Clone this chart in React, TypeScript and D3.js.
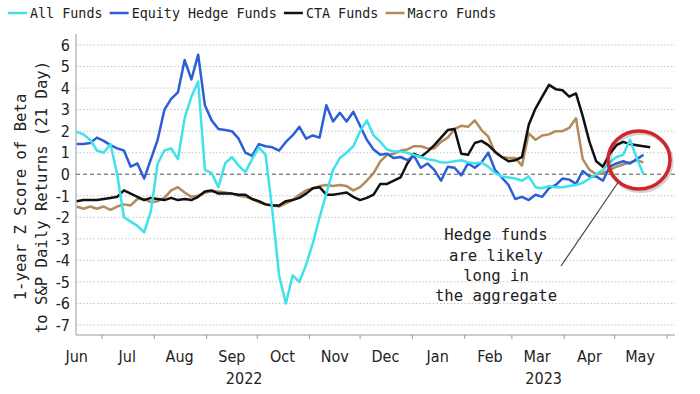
import React from "react";
import * as d3 from "d3";

// sampled every 4 calendar days starting 16 Jun 2022
const startDate = new Date(2022, 5, 16);
const stepDays = 4;

const allFunds = [
  1.97, 1.85, 1.6, 1.1, 1.0, 1.4, 0.0, -2.0, -2.2, -2.4,
  -2.7, -1.7, 0.5, 1.1, 1.2, 0.7, 2.6, 3.6, 4.3, 0.2,
  0.05, -0.6, 0.5, 0.8, 0.4, 0.1, 0.7, 1.25, 0.9, -1.7,
  -4.7, -6.0, -4.7, -5.0, -4.2, -3.2, -2.0, -0.9, 0.2, 0.75,
  1.0, 1.3, 2.0, 2.5, 1.8, 1.5, 1.15, 1.05, 1.05, 1.0,
  0.9, 0.8, 0.7, 0.65, 0.55, 0.55, 0.6, 0.65, 0.55, 0.5,
  0.55, 0.35, 0.05, -0.1, -0.15, -0.2, -0.3, -0.1, -0.6, -0.65,
  -0.55, -0.6, -0.6, -0.55, -0.5, -0.4, -0.2, 0.0, 0.2, 0.55,
  0.8, 0.9, 1.6, 0.75, 0.0,
];
const equityHedge = [
  1.4, 1.4, 1.45, 1.7, 1.55, 1.35, 1.2, 1.1, 0.35, 0.5,
  -0.2, 0.7, 1.6, 3.0, 3.5, 3.8, 5.3, 4.4, 5.55, 3.2,
  2.5, 2.1, 2.05, 2.0, 1.65, 1.0, 0.85, 1.4, 1.3, 1.25,
  1.1, 1.5, 1.8, 2.2, 1.65, 1.8, 1.7, 3.2, 2.45, 2.85,
  2.45, 2.9, 2.25, 1.6, 1.15, 0.9, 0.95, 0.75, 0.8, 0.65,
  0.85, 0.3, 0.5, 0.2, -0.3, 0.35, 0.3, -0.05, 0.5, 0.3,
  0.55, 1.0, 0.2, -0.15, -0.5, -1.15, -1.05, -1.2, -0.95, -1.05,
  -0.65, -0.5, -0.2, -0.25, -0.45, 0.15, -0.1, -0.1, -0.3, 0.35,
  0.5, 0.6, 0.5, 0.7, 0.9,
];
const ctaFunds = [
  -1.25, -1.2, -1.2, -1.2, -1.15, -1.1, -1.05, -0.75, -0.9, -1.05,
  -1.2, -1.1, -1.15, -1.2, -1.1, -1.2, -1.15, -1.2, -1.05, -0.8,
  -0.75, -0.9, -0.9, -0.9, -0.95, -0.95, -1.15, -1.25, -1.4, -1.45,
  -1.45, -1.25, -1.2, -1.1, -0.9, -0.65, -0.6, -0.95, -0.95, -0.9,
  -0.85, -1.05, -1.2, -1.1, -0.95, -0.45, -0.45, -0.3, -0.15, 0.5,
  0.95, 0.8, 1.05, 1.35, 1.7, 2.05, 2.1, 0.95, 0.9, 1.45,
  1.55, 1.35, 1.05, 0.8, 0.6, 0.65, 0.8, 2.3, 3.05, 3.6,
  4.15, 3.95, 3.9, 3.6, 3.75, 2.7, 1.5, 0.6, 0.35, 0.95,
  1.35, 1.5, 1.4, 1.35, 1.3, 1.25,
];
const macroFunds = [
  -1.5, -1.6, -1.5, -1.6, -1.5, -1.65, -1.5, -1.4, -1.45, -1.15,
  -1.15, -1.3, -1.25, -1.1, -0.75, -0.6, -0.85, -1.05, -1.0, -0.85,
  -0.8, -0.8, -0.85, -0.9, -1.0, -1.05, -1.15, -1.3, -1.4, -1.45,
  -1.5, -1.35, -1.2, -0.95, -0.75, -0.65, -0.55, -0.5, -0.55, -0.5,
  -0.55, -0.75, -0.6, -0.3, 0.05, 0.6, 0.9, 0.95, 1.1, 1.15,
  1.3, 1.3, 1.2, 1.2, 1.5, 1.7, 2.1, 2.25, 2.2, 2.5,
  2.05, 1.75, 1.0, 0.8, 0.75, 0.75, 0.4, 1.9, 1.6, 1.8,
  1.85, 2.0, 2.0, 2.15, 2.6, 0.7, 0.2, 0.0, 0.05, 0.2,
  0.35, 0.45, 0.55, 0.65, 0.55,
];

const seriesNames = ["All Funds", "Equity Hedge Funds", "CTA Funds", "Macro Funds"];
const seriesColors = ["#3fe2ea", "#2b5ed8", "#111111", "#b18b5b"];
const yTicks = [6, 5, 4, 3, 2, 1, 0, -1, -2, -3, -4, -5, -6, -7];
const monthLabels = ["Jun", "Jul", "Aug", "Sep", "Oct", "Nov", "Dec", "Jan", "Feb", "Mar", "Apr", "May"];
const yearLabels = ["2022", "2023"];
const yTitle = ["1-year Z Score of Beta", "to S&P Daily Returns (21 Day)"];
const noteLines = ["Hedge funds", "are likely", "long in", "the aggregate"];

const W = 700;
const H = 394;
const plot = { left: 76, right: 675, top: 34, bottom: 335 };
const mono = "'DejaVu Sans Mono', 'Liberation Mono', monospace";
const narrow = "'DejaVu Sans Condensed', 'Liberation Sans Narrow', 'DejaVu Sans', sans-serif";

export default function App() {
  const x = d3
    .scaleTime()
    .domain([new Date(2022, 5, 15, 14), new Date(2023, 5, 5, 17)])
    .range([plot.left, plot.right]);
  const y = d3.scaleLinear().domain([-7, 6]).range([325, 45]);

  const series = [allFunds, equityHedge, ctaFunds, macroFunds];
  const dateAt = (i: number) => d3.timeDay.offset(startDate, i * stepDays);

  const lineGen = d3
    .line<number>()
    .x((_, i) => x(dateAt(i)))
    .y((d) => y(d));

  const monthTicks = d3.timeMonth.range(new Date(2022, 6, 1), new Date(2023, 5, 2));
  const monthMid = monthLabels.map((_, i) => new Date(2022, 5 + i, 16));
  const jan = x(new Date(2023, 0, 1));
  const yearCenters = [(plot.left + jan) / 2, (jan + plot.right) / 2];

  // legend layout: monospace so width ~ chars
  const charW = 8.07;
  let lx = 8;
  const legendItems = seriesNames.map((name, i) => {
    const item = { name, color: seriesColors[i], x: lx };
    lx = lx + 22 + name.length * charW + 7;
    return item;
  });

  const drawOrder = [3, 2, 1, 0];

  return (
    <svg
      width={W}
      height={H}
      style={{ position: "absolute", left: 0, top: 0, background: "#fff" }}
    >
      {/* legend */}
      {legendItems.map((it) => (
        <g key={it.name}>
          <line x1={it.x} x2={it.x + 19} y1={13} y2={13} stroke={it.color} strokeWidth={2.5} />
          <text x={it.x + 22} y={13} dy="0.35em" fontFamily={mono} fontSize={13.4} fill="#222">
            {it.name}
          </text>
        </g>
      ))}

      {/* grid */}
      {yTicks.map((t) => (
        <line
          key={"g" + t}
          x1={plot.left}
          x2={plot.right}
          y1={y(t)}
          y2={y(t)}
          stroke={t === 0 ? "#555" : "#c4c4c4"}
          strokeWidth={1}
          strokeDasharray={t === 0 ? "4,3" : "1.5,2"}
        />
      ))}

      {/* axes */}
      <line x1={plot.left} x2={plot.left} y1={plot.top} y2={plot.bottom} stroke="#999" />
      <line x1={plot.left} x2={plot.right} y1={plot.bottom} y2={plot.bottom} stroke="#999" />
      {monthTicks.map((d) => (
        <line key={+d} x1={x(d)} x2={x(d)} y1={plot.bottom} y2={plot.bottom + 4} stroke="#999" />
      ))}

      {yTicks.map((t) => (
        <text
          key={"l" + t}
          x={70}
          y={y(t)}
          dy="0.36em"
          textAnchor="end"
          fontFamily={narrow}
          fontSize={16}
          fill="#222"
        >
          {t}
        </text>
      ))}

      {monthLabels.map((m, i) => (
        <text
          key={m + i}
          x={x(monthMid[i])}
          y={356}
          dy="0.35em"
          textAnchor="middle"
          fontFamily={narrow}
          fontSize={16}
          fill="#222"
        >
          {m}
        </text>
      ))}
      {yearLabels.map((yl, i) => (
        <text
          key={yl}
          x={yearCenters[i]}
          y={378}
          dy="0.35em"
          textAnchor="middle"
          fontFamily={narrow}
          fontSize={16}
          fill="#222"
        >
          {yl}
        </text>
      ))}

      {/* y title */}
      <g transform="translate(21,197) rotate(-90)">
        <text x={0} y={0} dy="0.35em" textAnchor="middle" fontFamily={mono} fontSize={15.6} fill="#222">
          {yTitle[0]}
        </text>
      </g>
      <g transform="translate(42,197) rotate(-90)">
        <text x={0} y={0} dy="0.35em" textAnchor="middle" fontFamily={mono} fontSize={15.6} fill="#222">
          {yTitle[1]}
        </text>
      </g>

      {/* series */}
      {drawOrder.map((si) => (
        <path
          key={seriesNames[si]}
          d={lineGen(series[si]) || ""}
          fill="none"
          stroke={seriesColors[si]}
          strokeWidth={2.5}
          strokeLinejoin="round"
        />
      ))}

      {/* annotation */}
      <line x1={561} y1={266} x2={619} y2={181} stroke="#444" strokeWidth={1.2} />
      <ellipse cx={640.5} cy={162} rx={31} ry={29} fill="none" stroke="#000" strokeOpacity={0.18} strokeWidth={4} />
      <ellipse cx={639} cy={160} rx={31} ry={29} fill="none" stroke="#d0262b" strokeWidth={3.5} />
      {noteLines.map((l, i) => (
        <text
          key={l}
          x={496}
          y={235 + i * 20.3}
          dy="0.35em"
          textAnchor="middle"
          fontFamily={mono}
          fontSize={15.6}
          fill="#222"
        >
          {l}
        </text>
      ))}
    </svg>
  );
}
